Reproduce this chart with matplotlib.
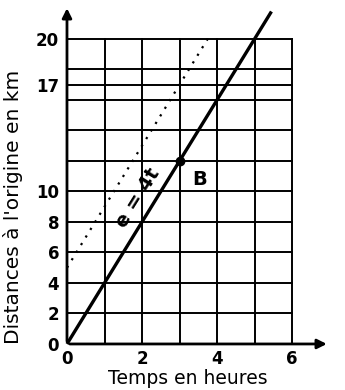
import matplotlib.pyplot as plt
import numpy as np

# droites d = 4t (B) et e = 4t + 5
temps = [0, 5.45]
dist_B = [0, 21.8]
temps_e = [0, 3.8]
dist_e = [5, 20.2]
point_B = (3, 12)

xticks = [0, 2, 4, 6]
yticks = [0, 2, 4, 6, 8, 10, 17, 20]
vgrid = [1, 2, 3, 4, 5, 6]
hgrid = [2, 4, 6, 8, 10, 12, 14, 16, 17, 18, 20]

fig = plt.figure(figsize=(3.45, 3.9), dpi=100)
ax = fig.add_axes([0.1833, 0.1141, 0.772, 0.872])
ax.set_xlim(-0.1, 7.0)
ax.set_ylim(-0.1, 22.2)
for s in ax.spines.values():
    s.set_visible(False)

# quadrillage
for x in vgrid:
    ax.plot([x, x], [0, 20], color='black', lw=1.4)
for y in hgrid:
    ax.plot([0, 6], [y, y], color='black', lw=1.4)

# axes avec fleches
ax.annotate('', xy=(7.0, 0), xytext=(0, 0),
            arrowprops=dict(arrowstyle='-|>', color='black', lw=2, mutation_scale=14))
ax.annotate('', xy=(0, 22.2), xytext=(0, 0),
            arrowprops=dict(arrowstyle='-|>', color='black', lw=2, mutation_scale=14))

ax.plot(temps, dist_B, color='black', lw=2.4, solid_capstyle='butt')
ax.plot(temps_e, dist_e, color='black', lw=1.6, ls=(0, (1, 3)))
ax.plot(*point_B, 'o', color='black', ms=6)
ax.text(3.35, 10.8, 'B', fontsize=14, fontweight='bold', va='center')
ax.text(1.9, 9.6, 'e = 4t', fontsize=14, fontweight='bold', rotation=58,
        ha='center', va='center')

ax.set_xticks(xticks)
ax.set_yticks(yticks)
ax.tick_params(length=0, labelsize=12, pad=3)
for lab in ax.get_xticklabels() + ax.get_yticklabels():
    lab.set_fontweight('bold')
ax.set_xlabel('Temps en heures', fontsize=13.5)
ax.set_ylabel("Distances à l'origine en km", fontsize=14.5)
ax.xaxis.set_label_coords(0.469, -0.068)
ax.yaxis.set_label_coords(-0.151, 0.407)

plt.savefig('out.png')
